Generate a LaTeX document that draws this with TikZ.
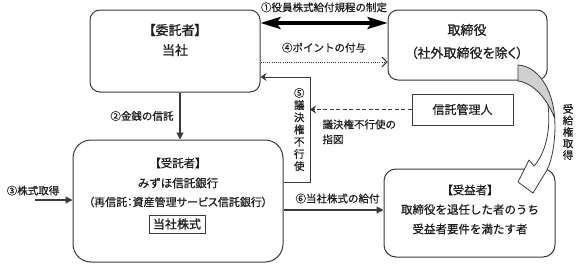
\documentclass[tikz,border=0pt]{standalone}
\usepackage{fontspec}
\setmainfont{Noto Sans CJK JP}[FakeBold=0.6]
\newfontfamily\jpprop{Noto Sans CJK JP}[RawFeature=+palt, FakeBold=0.6]
\usetikzlibrary{arrows.meta, positioning, calc}
\definecolor{cline}{HTML}{3A3A3A}
\definecolor{ctext}{HTML}{1C1C1C}
\definecolor{cshade}{HTML}{D0D0D0}
\tikzset{
  every picture/.style={line width=1pt, text=ctext},
  box/.style={draw=cline, fill=white, rounded corners=#1, line width=1pt},
  box/.default=10pt,
  bigtxt/.style={font=\fontsize{13}{20}\selectfont, align=center, inner sep=0pt},
  txt/.style={font=\fontsize{11.5}{14}\selectfont, align=center, inner sep=0pt},
  subtxt/.style={font=\fontsize{11}{13}\selectfont, inner sep=0pt},
  lbl/.style={font=\fontsize{10.5}{12}\selectfont, inner sep=1pt},
  vlbl/.style={font=\fontsize{10.5}{12.2}\selectfont, align=center, inner sep=0pt},
  flow/.style={-{Triangle[length=7pt,width=7pt]}, draw=cline, line width=1.2pt},
  thinarrow/.style={-{Stealth[length=6pt,width=8pt,inset=2pt]}, draw=cline, line width=1pt},
  dasharrow/.style={thinarrow, dash pattern=on 4pt off 2.5pt},
  dotarrow/.style={-{Straight Barb[length=5pt,width=10pt]}, draw=cline, line width=0.9pt, dash pattern=on 1pt off 1.2pt},
  bigarrow/.style={arrows={Stealth[length=20pt,width=12pt,inset=4pt]-Stealth[length=20pt,width=12pt,inset=4pt]}, draw=black, line width=3.5pt},
  curl/.style={draw=cline, line width=0.8pt, line join=round},
}

\begin{document}
\begin{tikzpicture}[x=1pt, y=-1pt]
  \useasboundingbox (0,0) rectangle (576,265);
  % boxes
  \node[box, minimum width=170pt, minimum height=82pt] (itaku) at (175,51) {};
  \node[box, minimum width=159pt, minimum height=70pt] (torishimari) at (467.5,45) {};
  \node[box=18pt, minimum width=210pt, minimum height=122pt] (jutaku) at (178,201) {};
  \node[box=12pt, minimum width=171pt, minimum height=88pt] (jueki) at (469.5,213) {};
  \node[box=0pt, txt, font=\fontsize{12}{14}\selectfont, minimum width=101pt, minimum height=31pt] (kanri) at (462.5,109.5) {信託管理人};
  \node[box=0pt, txt, font=\fontsize{12}{14}\selectfont, minimum width=56pt, minimum height=18pt, line width=0.9pt] (kabushiki) at (177,224) {当社株式};

  \node[bigtxt] (itakuT) at (175,40) {{\jpprop 【委託者】}\\当社};
  \node[bigtxt, font=\fontsize{13}{23}\selectfont] (torishimariT) at (467,41.5) {取締役\\{\jpprop （社外取締役を除く）}};
  \node[txt, font=\fontsize{11.5}{20}\selectfont] (jutakuT) at (178,173) {{\jpprop 【受託者】}\\みずほ信託銀行};
  \node[subtxt] (saishin) at (178,202) {\jpprop （再信託：資産管理サービス信託銀行）};
  \node[txt, font=\fontsize{11.5}{19.5}\selectfont] (juekiT) at (470,209.5) {{\jpprop 【受益者】}\\取締役を退任した者のうち\\受益者要件を満たす者};

  % connectors
  \draw[bigarrow] (itaku.east |- 0,23) -- node[lbl, above=8pt] (seitei) {①役員株式給付規程の制定} (torishimari.west |- 0,23);
  \draw[dotarrow] (itaku.east |- 0,62) -- node[lbl, above=8pt] (point) {④ポイントの付与} (torishimari.west |- 0,62);
  \draw[flow] (itaku.south -| 180,0) -- node[lbl, left=5pt] (kinsen) {②金銭の信託} (jutaku.north -| 180,0);

  \coordinate (kabu) at (35,200);
  \draw[flow] (kabu) -- (kabu -| jutaku.west);
  \node[lbl, above=3pt, xshift=-2pt] (kabuL) at (kabu) {③株式取得};

  \draw[flow] (jutaku.east |- 0,210) -- node[lbl, above=5pt, xshift=4pt] (kyufu) {⑥当社株式の給付} (jueki.west |- 0,210);

  \coordinate (kado) at (310,77);
  \coordinate (kabe) at (310,182);
  \draw[thinarrow] (jutaku.east |- kabe) -- (kabe) -- node[vlbl, left=5pt] (giketsu) {⑤\\議\\決\\権\\不\\行\\使} (kado) -- (itaku.east |- kado);
  \draw[dasharrow] (kanri.west) -- (kanri.west -| kado);
  \node[lbl, align=left, anchor=north west, font=\fontsize{10.5}{15}\selectfont] (shizu) at (321,118) {議決権不行使の\\指図};

  % curved arrow
  \fill[white] (554.7,118.5) .. controls (556,140) and (552,160) .. (547,170) -- (533,193) -- (518,182) -- (529,160) -- (534,166) .. controls (547,152) and (551,125) .. (547.8,104.3) -- cycle;
  \draw[curl] (554.7,118.5) .. controls (556,140) and (552,160) .. (547,170) -- (533,193) -- (518,182) -- (529,160) -- (534,166) .. controls (547,152) and (551,125) .. (547.8,104.3);
  \filldraw[curl, fill=cshade] (518,65) .. controls (537,66) and (553,88) .. (554.7,118.5) .. controls (547,98) and (533,83) .. (518,81) -- cycle;
  \node[vlbl, font=\fontsize{10.5}{11.5}\selectfont] (jukyu) at (568,132) {受\\給\\権\\取\\得};
\end{tikzpicture}
\end{document}
